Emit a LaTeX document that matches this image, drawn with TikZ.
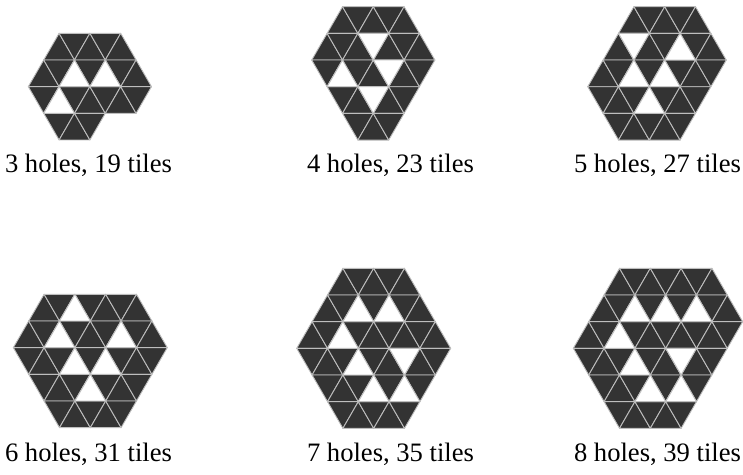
\documentclass[tikz,border=0pt]{standalone}
\usepackage{fontspec}
\setmainfont{Liberation Serif}
\usepackage{tikz}

\definecolor{tiledark}{RGB}{51,51,51}
\definecolor{tileedge}{RGB}{190,190,190}

% half side and row height of one triangle, in px
\newcommand\hs{15.4}
\newcommand\rh{26.67}

% one triangle: style, x0, y0, row, k (up when row+k is odd)
\newcommand\tri[5]{%
  \pgfmathtruncatemacro\isup{mod(#4+#5,2)}%
  \ifnum\isup=1
    \path[#1] ({#2+(#5+1)*\hs},{#3+#4*\rh}) -- ({#2+#5*\hs},{#3+(#4+1)*\rh})
      -- ({#2+(#5+2)*\hs},{#3+(#4+1)*\rh}) -- cycle;
  \else
    \path[#1] ({#2+#5*\hs},{#3+#4*\rh}) -- ({#2+(#5+2)*\hs},{#3+#4*\rh})
      -- ({#2+(#5+1)*\hs},{#3+(#4+1)*\rh}) -- cycle;
  \fi}

% a holey polyiamond: x0, y0, rows (row/first/last), holes (row/k)
\newcommand\holey[4]{%
  \foreach \r/\a/\b in {#3}{%
    \foreach \k in {\a,...,\b}{\tri{tile}{#1}{#2}{\r}{\k}}}
  \foreach \r/\k in {#4}{\tri{hole}{#1}{#2}{\r}{\k}}}

\begin{document}
\begin{tikzpicture}[
  x=1pt, y=-1pt,
  tile/.style={fill=tiledark, draw=tileedge, line width=0.9pt, line join=round},
  hole/.style={fill=white, draw=tileedge, line width=0.9pt, line join=round},
  caption/.style={font=\fontsize{26.6}{30}\selectfont, anchor=base, inner sep=0pt}
  ]
  \useasboundingbox (0,0) rectangle (743,474);

  % top row
  \holey{28.3}{33.3}{0/1/5, 1/0/6, 2/0/6, 3/1/3}{1/2, 1/4, 2/1}
  \holey{311.7}{6.7}{0/1/5, 1/0/6, 2/0/6, 3/1/5, 4/2/4}{1/3, 2/1, 2/4, 3/3}
  \holey{572.3}{6.7}{0/3/7, 1/2/8, 2/1/8, 3/1/7, 4/2/6}{1/3, 1/6, 2/3, 2/5, 3/4}

  % bottom row
  \holey{13.3}{294.3}{0/1/7, 1/0/8, 2/0/8, 3/1/7, 4/2/6}{0/3, 1/2, 1/6, 2/3, 2/5, 3/4}
  \holey{281.3}{268.3}{0/3/7, 1/2/8, 2/1/9, 3/1/9, 4/2/8, 5/3/7}{1/4, 1/6, 2/3, 3/4, 3/7, 4/5, 4/7}
  \holey{557.9}{268.3}{0/3/9, 1/2/10, 2/1/10, 3/1/9, 4/2/8, 5/3/7}{1/4, 1/6, 1/8, 2/3, 3/4, 3/7, 4/5, 4/7}

  \node[caption] (cap3) at (88.5,172) {3 holes, 19 tiles};
  \node[caption] (cap4) at (390.5,172) {4 holes, 23 tiles};
  \node[caption] (cap5) at (657.5,172) {5 holes, 27 tiles};
  \node[caption] (cap6) at (88.5,461) {6 holes, 31 tiles};
  \node[caption] (cap7) at (390.5,461) {7 holes, 35 tiles};
  \node[caption] (cap8) at (657.5,461) {8 holes, 39 tiles};
\end{tikzpicture}
\end{document}
